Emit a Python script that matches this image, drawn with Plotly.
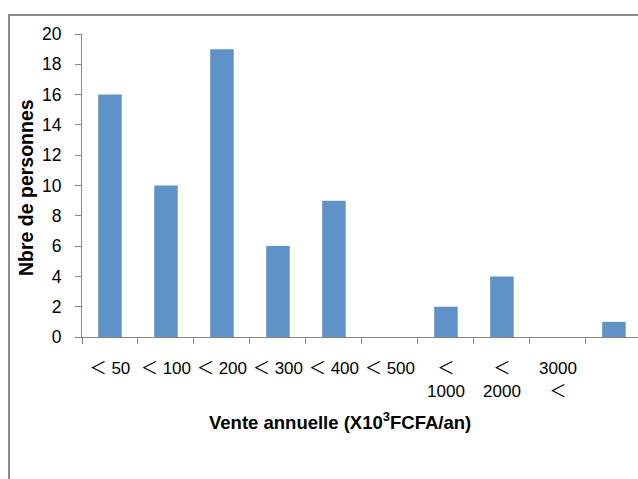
import plotly.graph_objects as go

# Annual sales classes (x 10^3 FCFA / year) and number of people in each
categories = ["＜ 50", "＜ 100", "＜ 200", "＜ 300", "＜ 400", "＜ 500",
              "＜ 1000", "＜ 2000", "3000 ＜", "autre"]
tick_labels = ["＜ 50", "＜ 100", "＜ 200", "＜ 300", "＜ 400", "＜ 500",
               "＜<br>1000", "＜<br>2000", "3000<br>＜", ""]
counts = [16, 10, 19, 6, 9, 0, 2, 4, 0, 1]
y_ticks = [0, 2, 4, 6, 8, 10, 12, 14, 16, 18, 20]

W, H = 638, 479
BAR_COLOR = "#5F93C8"
AXIS_GRAY = "#868686"
FONT = "Liberation Sans, Arial, Noto Sans CJK JP, sans-serif"

fig = go.Figure(
    go.Bar(x=categories, y=counts, marker=dict(color=BAR_COLOR, line=dict(width=0)))
)

fig.update_layout(
    width=W, height=H,
    margin=dict(l=0, r=0, t=0, b=0, pad=0),
    paper_bgcolor="white", plot_bgcolor="white",
    bargap=0.58,
    showlegend=False,
    font=dict(family=FONT, color="black"),
)

fig.update_xaxes(
    domain=[82 / W, 1],
    range=[-0.5, 9.43],
    type="category",
    tickson="boundaries",
    tickmode="array", tickvals=categories, ticktext=tick_labels,
    ticks="outside", ticklen=6, tickcolor=AXIS_GRAY, tickwidth=1,
    showline=True, linecolor=AXIS_GRAY, linewidth=1,
    showgrid=False, zeroline=False,
    tickfont=dict(size=17, family=FONT),
    ticklabelstandoff=16,
    tickangle=0,
    automargin=False,
)

fig.update_yaxes(
    domain=[(H - 337) / H, (H - 34) / H],
    range=[0, 20],
    tickvals=y_ticks,
    ticks="outside", ticklen=6, tickcolor=AXIS_GRAY, tickwidth=1,
    showline=True, linecolor=AXIS_GRAY, linewidth=1,
    showgrid=False, zeroline=False,
    tickfont=dict(size=17.5, family=FONT),
    ticklabelstandoff=10,
    automargin=False,
)

# Axis titles
fig.add_annotation(
    text="<b>Vente annuelle (X10<sup>3</sup>FCFA/an)</b>",
    xref="paper", yref="paper", x=340 / W, y=1 - 421 / H,
    xanchor="center", yanchor="middle", showarrow=False,
    font=dict(size=18.5, family=FONT),
)
fig.add_annotation(
    text="<b>Nbre de personnes</b>",
    xref="paper", yref="paper", x=26 / W, y=1 - 188 / H,
    xanchor="center", yanchor="middle", showarrow=False, textangle=-90,
    font=dict(size=19.5, family=FONT),
)

# Outer chart frame
fig.add_shape(
    type="rect", xref="paper", yref="paper",
    x0=9 / W, y0=-0.05, x1=1.05, y1=1 - 15 / H,
    line=dict(color="#8C8C8C", width=2), fillcolor="rgba(0,0,0,0)",
    layer="below",
)

fig.write_html("out.html")
